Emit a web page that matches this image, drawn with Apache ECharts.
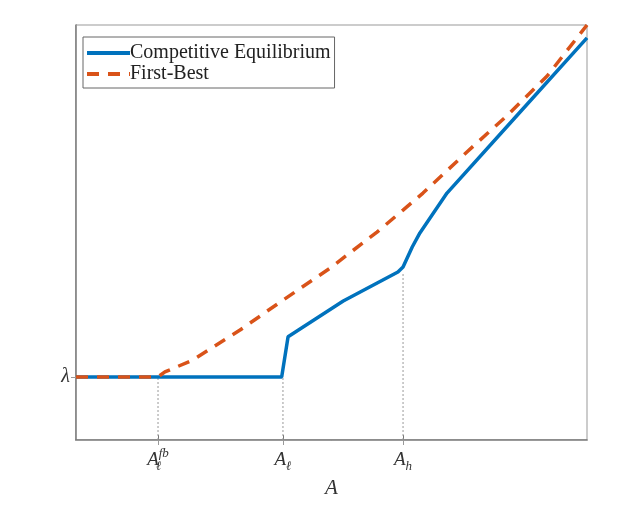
<!DOCTYPE html>
<html><head><meta charset="utf-8">
<script src="https://cdn.jsdelivr.net/npm/echarts@6/dist/echarts.min.js"></script>
<style>html,body{margin:0;padding:0;background:#fff}#c{width:635px;height:507px}</style>
</head><body><div id="c"></div>
<script>
// ---- data (x in 0..100 units of A, y in 0..100) ----
var lambdaVal = 15.2;
var xTicks = [16.05, 40.5, 64.0];            // A_l^fb, A_l, A_h
var xTickLabels = ['{a|A}{subw|ℓ}{sup|fb}', '{a|A}{sub|ℓ}', '{a|A}{sub|h}'];
var ceX = [0, 40.25, 41.5, 52.3, 63.0, 64.0, 65.8, 67.3, 72.6, 85.5, 100];
var ceY = [15.2, 15.2, 24.9, 33.5, 40.5, 41.7, 46.5, 49.9, 59.5, 77.1, 96.9];
var fbX = [0, 16.05, 17.4, 22.9, 32.1, 40.5, 49.7, 58.9, 64.0, 67.9, 76.5, 84.3, 92.2, 100];
var fbY = [15.2, 15.2, 16.4, 19.3, 26.5, 33.7, 41.4, 50.1, 55.4, 59.5, 69.4, 78.1, 87.7, 100];
var guideTops = [15.2, 15.2, 40.5];          // where dotted guides end

function zip(a, b) { return a.map(function (v, i) { return [v, b[i]]; }); }
var serif = 'Liberation Serif';
var guideSeries = xTicks.map(function (x, i) {
  return {
    type: 'line', symbol: 'none', silent: true, z: 1,
    data: [[x, 0], [x, guideTops[i]]],
    lineStyle: { color: '#999', width: 1, type: [2, 2] }
  };
});

var chart = echarts.init(document.getElementById('c'));
chart.setOption({
  animation: false,
  backgroundColor: '#fff',
  grid: { left: 76, right: 48, top: 25, bottom: 67, show: true, borderColor: '#999', borderWidth: 1 },
  legend: {
    left: 83, top: 37, orient: 'vertical',
    data: ['Competitive Equilibrium', 'First-Best'],
    backgroundColor: '#fff', borderColor: '#666', borderWidth: 1, borderRadius: 0,
    padding: [6, 4, 4, 2], itemWidth: 43, itemHeight: 14, itemGap: 1,
    itemStyle: { opacity: 0 },
    lineStyle: { width: 4 },
    textStyle: { fontFamily: serif, fontSize: 20, lineHeight: 18, color: '#222', padding: [0, 0, 0, -5] }
  },
  xAxis: [{
    type: 'value', min: 0, max: 100, position: 'bottom',
    name: 'A', nameLocation: 'middle', nameGap: 36,
    nameTextStyle: { fontFamily: serif, fontStyle: 'italic', fontSize: 21, color: '#333' },
    axisLine: { show: true, lineStyle: { color: '#777', width: 1.5 } },
    axisTick: { show: true, inside: true, length: 5, customValues: xTicks, lineStyle: { color: '#777' } },
    splitLine: { show: false },
    axisLabel: {
      customValues: xTicks, margin: 7,
      formatter: function (v) { var i = xTicks.indexOf(v); return i >= 0 ? xTickLabels[i] : ''; },
      rich: {
        a: { fontFamily: serif, fontStyle: 'italic', fontSize: 19, color: '#333', lineHeight: 26 },
        sub: { fontFamily: serif, fontStyle: 'italic', fontSize: 13, color: '#333', lineHeight: 12, verticalAlign: 'bottom' },
        subw: { fontFamily: serif, fontStyle: 'italic', fontSize: 13, color: '#333', lineHeight: 12, verticalAlign: 'bottom', width: 0 },
        sup: { fontFamily: serif, fontStyle: 'italic', fontSize: 13, color: '#333', lineHeight: 12, verticalAlign: 'top' }
      }
    }
  }, {
    type: 'value', min: 0, max: 100, position: 'top',
    axisLine: { show: true, lineStyle: { color: '#999' } },
    axisTick: { show: true, inside: true, length: 5, customValues: xTicks, lineStyle: { color: '#999' } },
    axisLabel: { show: false }, splitLine: { show: false }
  }],
  yAxis: [{
    type: 'value', min: 0, max: 100, position: 'left',
    axisLine: { show: true, lineStyle: { color: '#777', width: 1.5 } },
    axisTick: { show: true, inside: true, length: 5, customValues: [lambdaVal], lineStyle: { color: '#777' } },
    axisLabel: {
      customValues: [lambdaVal], margin: 6,
      formatter: function () { return 'λ'; },
      fontFamily: serif, fontStyle: 'italic', fontSize: 20, color: '#333'
    },
    splitLine: { show: false }
  }, {
    type: 'value', min: 0, max: 100, position: 'right',
    axisLine: { show: true, lineStyle: { color: '#999' } },
    axisTick: { show: true, inside: true, length: 5, customValues: [lambdaVal], lineStyle: { color: '#999' } },
    axisLabel: { show: false }, splitLine: { show: false }
  }],
  series: guideSeries.concat([{
    name: 'Competitive Equilibrium', type: 'line', symbol: 'none', z: 3,
    data: zip(ceX, ceY),
    lineStyle: { color: '#0072BD', width: 3.5 }, itemStyle: { color: '#0072BD' }
  }, {
    name: 'First-Best', type: 'line', symbol: 'none', z: 4,
    data: zip(fbX, fbY),
    lineStyle: { color: '#D95319', width: 3.5, type: [12, 9] }, itemStyle: { color: '#D95319' }
  }])
});
</script></body></html>
